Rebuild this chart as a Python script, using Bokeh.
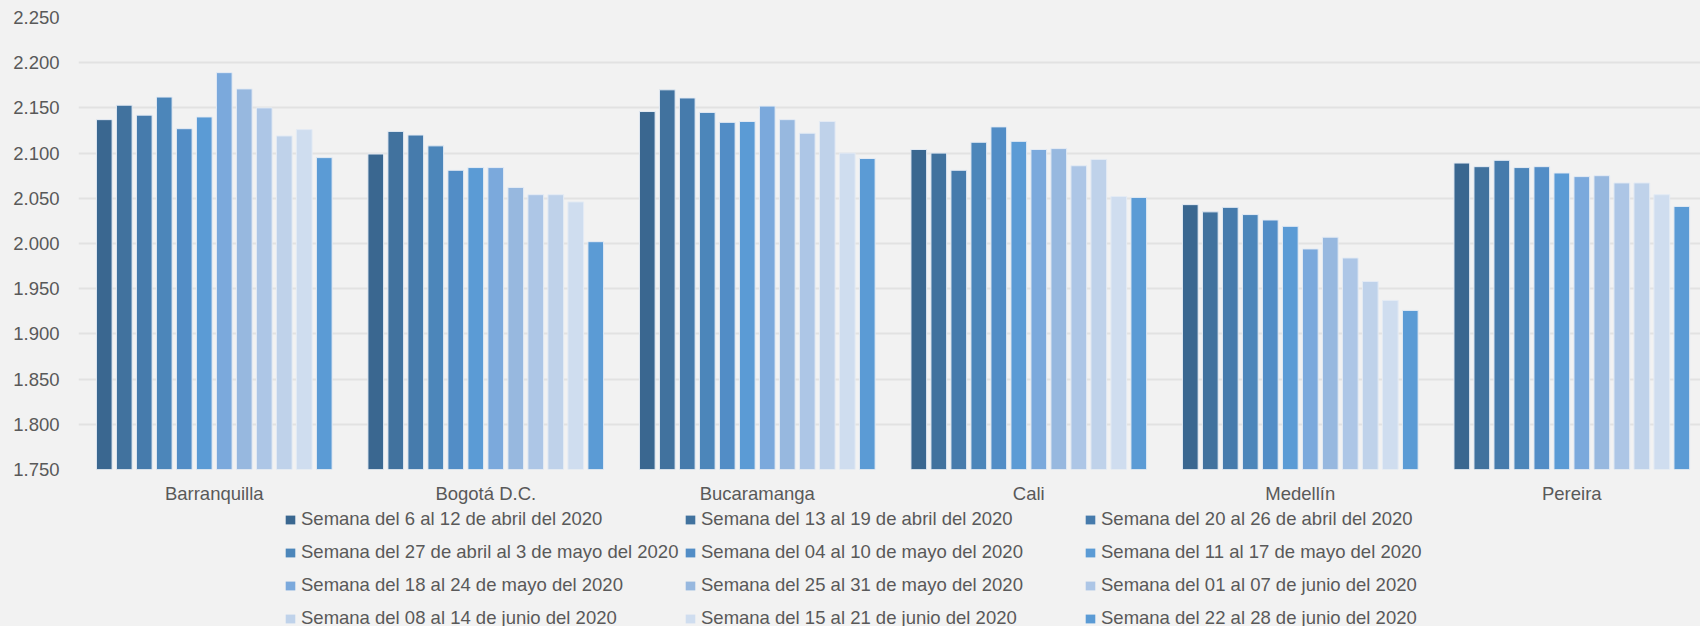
from bokeh.plotting import figure
from bokeh.layouts import column
from bokeh.models import ColumnDataSource, Range1d, FixedTicker, Legend, LegendItem
from bokeh.transform import dodge
from bokeh.embed import file_html
from bokeh.resources import INLINE

cities = ["Barranquilla", "Bogotá D.C.", "Bucaramanga", "Cali", "Medellín", "Pereira"]
weeks = [
    "Semana del 6 al 12 de abril del 2020",
    "Semana del 13 al 19 de abril del 2020",
    "Semana del 20 al 26 de abril del 2020",
    "Semana del 27 de abril al 3 de mayo del 2020",
    "Semana del 04 al 10 de mayo del 2020",
    "Semana del 11 al 17 de mayo del 2020",
    "Semana del 18 al 24 de mayo del 2020",
    "Semana del 25 al 31 de mayo del 2020",
    "Semana del 01 al 07 de junio del 2020",
    "Semana del 08 al 14 de junio del 2020",
    "Semana del 15 al 21 de junio del 2020",
    "Semana del 22 al 28 de junio del 2020",
]

barranquilla = [2137, 2153, 2142, 2162, 2127, 2140, 2189, 2171, 2150, 2119, 2126, 2095]
bogota = [2099, 2124, 2120, 2108, 2081, 2084, 2084, 2062, 2054, 2054, 2046, 2002]
bucaramanga = [2146, 2170, 2161, 2145, 2134, 2135, 2152, 2137, 2122, 2135, 2100, 2094]
cali = [2104, 2100, 2081, 2112, 2129, 2113, 2104, 2105, 2086, 2093, 2052, 2051]
medellin = [2043, 2035, 2040, 2032, 2026, 2019, 1994, 2007, 1984, 1958, 1937, 1926]
pereira = [2089, 2085, 2092, 2084, 2085, 2078, 2074, 2075, 2067, 2067, 2054, 2041]
city_values = [barranquilla, bogota, bucaramanga, cali, medellin, pereira]

y_ticks = [1750, 1800, 1850, 1900, 1950, 2000, 2050, 2100, 2150, 2200, 2250]
y_labels = ["1.750", "1.800", "1.850", "1.900", "1.950", "2.000", "2.050", "2.100", "2.150", "2.200", "2.250"]

colors = ["#3A6790", "#41729E", "#467BAC", "#4C86BA", "#528DC6", "#5B9BD5",
          "#7BA9DC", "#97B8DF", "#ADC6E6", "#BFD2EA", "#CFDDEF", "#5B9BD5"]

FONT = "Liberation Sans"
TXT = "#595959"
BG = "#F2F2F2"

p = figure(width=1700, height=506, output_backend="svg", toolbar_location=None,
           x_range=Range1d(-0.5, 5.474), y_range=Range1d(1750, 2250),
           min_border_left=78, min_border_right=0, min_border_top=17, min_border_bottom=34)
p.background_fill_color = BG
p.border_fill_color = BG
p.outline_line_color = None

step = 0.07366
bw = 0.0578
sources = []
for k in range(len(weeks)):
    src = ColumnDataSource(dict(x=list(range(len(cities))),
                                top=[cv[k] for cv in city_values]))
    sources.append(src)
    p.vbar(x=dodge("x", (k - 5.5) * step), top="top", bottom=1750, width=bw,
           source=src, fill_color=colors[k], line_color="#E4EBF4", line_width=1)

p.xgrid.grid_line_color = None
p.ygrid.grid_line_color = "#E2E2E2"
p.ygrid.grid_line_width = 2
p.ygrid.ticker = FixedTicker(ticks=y_ticks)

p.yaxis.ticker = FixedTicker(ticks=y_ticks)
p.yaxis.major_label_overrides = dict(zip(y_ticks, y_labels))
p.xaxis.ticker = FixedTicker(ticks=list(range(len(cities))))
p.xaxis.major_label_overrides = dict(zip(range(len(cities)), cities))
for ax in (p.xaxis[0], p.yaxis[0]):
    ax.axis_line_color = None
    ax.major_tick_line_color = None
    ax.minor_tick_line_color = None
    ax.major_tick_out = 0
    ax.minor_tick_out = 0
    ax.major_label_text_font = FONT
    ax.major_label_text_font_size = "18.5px"
    ax.major_label_text_color = TXT
p.yaxis.major_label_standoff = 19
p.xaxis.major_label_standoff = 13

# legend strip below the chart (its swatch renderers share the series data but lie far outside its view)
pl = figure(width=1700, height=120, output_backend="svg", toolbar_location=None,
            x_range=Range1d(-1000, -999), y_range=Range1d(-10000, -9999),
            x_axis_type=None, y_axis_type=None,
            min_border_left=78, min_border_right=0, min_border_top=0, min_border_bottom=0)
pl.background_fill_color = BG
pl.border_fill_color = BG
pl.outline_line_color = None
pl.grid.grid_line_color = None

swatches = []
for k in range(len(weeks)):
    swatches.append(pl.vbar(x="x", top="top", bottom=1750, width=0.05, source=sources[k],
                            fill_color=colors[k], line_color=None))

col_x = [206, 606, 1006]
for c in range(3):
    items = [LegendItem(label=weeks[c + 3 * r], renderers=[swatches[c + 3 * r]]) for r in range(4)]
    lg = Legend(items=items, location=(col_x[c], -3), orientation="vertical",
                glyph_width=12, glyph_height=11, label_standoff=5,
                label_height=22, spacing=11, padding=0, margin=0,
                border_line_color=None, background_fill_alpha=0,
                label_text_font=FONT, label_text_font_size="18.5px",
                label_text_color=TXT)
    pl.add_layout(lg, "center")

layout = column(p, pl, spacing=0)
html = file_html(layout, INLINE)
html = html.replace("</head>", "<style>html, body { background: #F2F2F2 !important; }</style></head>", 1)
open("out.html", "w").write(html)
